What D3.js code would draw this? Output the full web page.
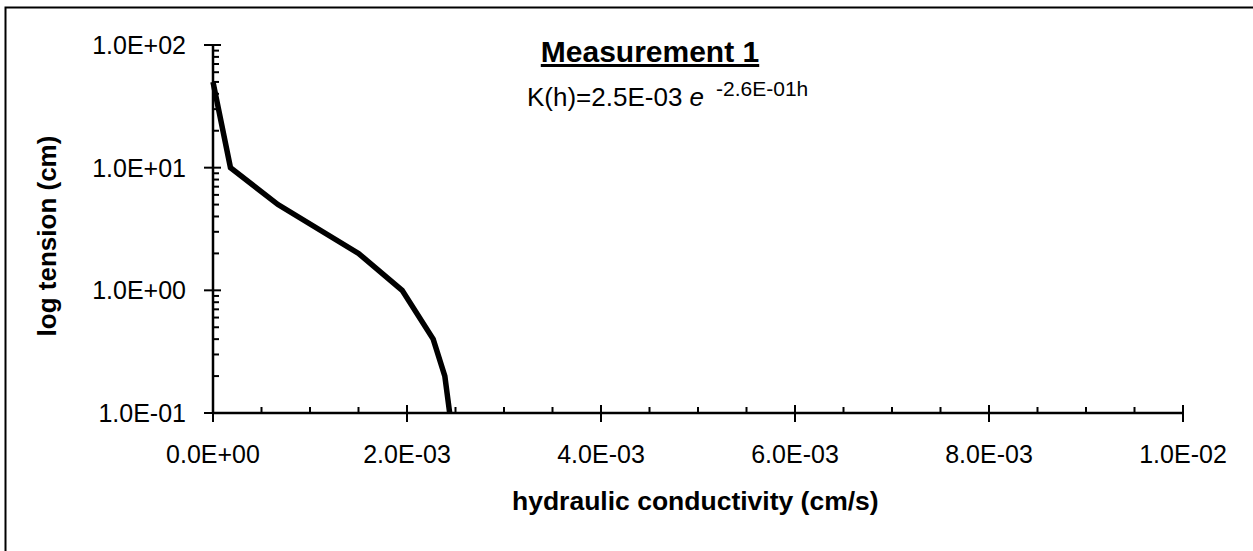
<!DOCTYPE html>
<html>
<head>
<meta charset="utf-8">
<script src="https://cdn.jsdelivr.net/npm/d3@7"></script>
<style>
  html, body { margin: 0; padding: 0; background: #fff; }
  svg { display: block; font-family: "Liberation Sans", Arial, sans-serif; }
</style>
</head>
<body>
<svg id="chart" width="1253" height="551"></svg>
<script>
// Data
const conductivity = [0, 0.00018, 0.00067, 0.0015, 0.00195, 0.00227, 0.00239, 0.00244];
const tension      = [50, 10, 5, 2, 1, 0.4, 0.2, 0.1];
const xTickValues  = [0, 0.002, 0.004, 0.006, 0.008, 0.01];
const xTickLabels  = ["0.0E+00", "2.0E-03", "4.0E-03", "6.0E-03", "8.0E-03", "1.0E-02"];
const yTickValues  = [0.1, 1, 10, 100];
const yTickLabels  = ["1.0E-01", "1.0E+00", "1.0E+01", "1.0E+02"];
const titleText    = "Measurement 1";
const xTitle       = "hydraulic conductivity (cm/s)";
const yTitle       = "log tension (cm)";

(function () {
const svg = d3.select("#chart");
const pL = 213, pR = 1183, pT = 45, pB = 413;

// outer border (right & bottom beyond view)
svg.append("rect").attr("x", 5.5).attr("y", 7.5).attr("width", 1300).attr("height", 600)
  .attr("fill", "none").attr("stroke", "#000").attr("stroke-width", 2);

const x = d3.scaleLinear().domain([0, 0.01]).range([pL, pR]);
const y = d3.scaleLog().domain([0.1, 100]).range([pB, pT]);

// X axis
const xMinor = d3.range(0, 0.01 + 1e-9, 0.0005);
const gx = svg.append("g");
gx.append("line").attr("x1", pL).attr("x2", pR).attr("y1", pB).attr("y2", pB)
  .attr("stroke", "#000").attr("stroke-width", 2.5);
gx.selectAll("line.minor").data(xMinor).join("line").attr("class", "minor")
  .attr("x1", d => x(d)).attr("x2", d => x(d)).attr("y1", pB - 6).attr("y2", pB)
  .attr("stroke", "#000").attr("stroke-width", 2);
gx.selectAll("line.major").data(xTickValues).join("line").attr("class", "major")
  .attr("x1", d => x(d)).attr("x2", d => x(d)).attr("y1", pB - 8).attr("y2", pB + 9)
  .attr("stroke", "#000").attr("stroke-width", 2);
gx.selectAll("text").data(xTickValues).join("text")
  .attr("x", d => x(d)).attr("y", pB + 50).attr("text-anchor", "middle")
  .attr("font-size", 25).text((d, i) => xTickLabels[i]);

// Y axis
const yMinor = [];
[0.1, 1, 10].forEach(b => { for (let k = 2; k <= 9; k++) yMinor.push(b * k); });
const gy = svg.append("g");
gy.append("line").attr("x1", pL).attr("x2", pL).attr("y1", pT).attr("y2", pB)
  .attr("stroke", "#000").attr("stroke-width", 2.5);
gy.selectAll("line.minor").data(yMinor).join("line").attr("class", "minor")
  .attr("x1", pL).attr("x2", pL + 6).attr("y1", d => y(d)).attr("y2", d => y(d))
  .attr("stroke", "#000").attr("stroke-width", 2);
gy.selectAll("line.major").data(yTickValues).join("line").attr("class", "major")
  .attr("x1", pL - 9).attr("x2", pL + 8).attr("y1", d => y(d)).attr("y2", d => y(d))
  .attr("stroke", "#000").attr("stroke-width", 2);
gy.selectAll("text").data(yTickValues).join("text")
  .attr("x", pL - 27).attr("y", d => y(d) + 9).attr("text-anchor", "end")
  .attr("font-size", 25).text((d, i) => yTickLabels[i]);

// Data line
const pts = conductivity.map((c, i) => [c, tension[i]]);
svg.append("path").datum(pts)
  .attr("d", d3.line().x(d => x(d[0])).y(d => y(d[1])))
  .attr("fill", "none").attr("stroke", "#000").attr("stroke-width", 5.5)
  .attr("stroke-linejoin", "miter");

// Title
svg.append("text").attr("x", 650).attr("y", 62).attr("text-anchor", "middle")
  .attr("font-size", 30).attr("font-weight", "bold").attr("text-decoration", "underline")
  .text(titleText);

// Formula
const f = svg.append("text").attr("x", 527).attr("y", 106).attr("font-size", 26);
f.append("tspan").text("K(h)=2.5E-03 ");
f.append("tspan").attr("font-style", "italic").text("e");
f.append("tspan").attr("font-size", 21).attr("dy", -10).attr("dx", 12)
  .text("-2.6E-01h");

// Axis titles
svg.append("text").attr("x", 512).attr("y", 510).attr("text-anchor", "start")
  .attr("font-size", 26.5).attr("font-weight", "bold").text(xTitle);
svg.append("text").attr("transform", "translate(56,236) rotate(-90)").attr("text-anchor", "middle")
  .attr("font-size", 26).attr("font-weight", "bold").text(yTitle);
})();
</script>
</body>
</html>
